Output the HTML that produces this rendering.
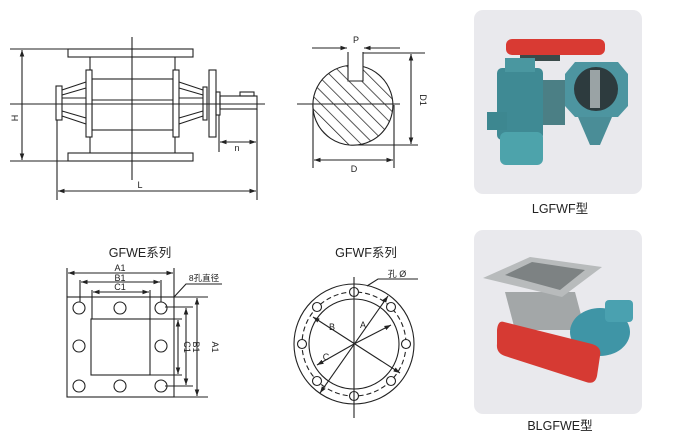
<!DOCTYPE html>
<html><head><meta charset="utf-8"><style>
body{margin:0;background:#fff;width:680px;height:436px;overflow:hidden}
svg{display:block}
text{font-family:"Liberation Sans","Noto Sans CJK SC",sans-serif;fill:#222}
</style></head><body>
<svg width="680" height="436" viewBox="0 0 680 436" xmlns="http://www.w3.org/2000/svg">
<defs>
<marker id="a" viewBox="0 0 10 10" refX="10" refY="5" markerWidth="6" markerHeight="6" orient="auto-start-reverse"><path d="M0,1.5L10,5L0,8.5z" fill="#222"/></marker>
<pattern id="h" width="9" height="9" patternUnits="userSpaceOnUse" patternTransform="rotate(-45)"><line x1="0" y1="0" x2="0" y2="9" stroke="#222" stroke-width="1.5"/></pattern>
</defs>
<g stroke="#222" stroke-width="1.1" fill="none">
<!-- side view -->
<rect x="68" y="49" width="125" height="8" fill="#fff"/>
<rect x="68" y="153" width="125" height="8" fill="#fff"/>
<line x1="90" y1="57" x2="90" y2="153"/><line x1="175" y1="57" x2="175" y2="153"/>
<rect x="92" y="79" width="81" height="51"/>
<line x1="92" y1="100" x2="173" y2="100"/>
<rect x="86" y="70" width="6" height="67" fill="#fff"/>
<rect x="173" y="70" width="6" height="67" fill="#fff"/>
<rect x="56" y="86" width="6" height="34" fill="#fff"/>
<line x1="62" y1="90" x2="86" y2="82"/><line x1="62" y1="95" x2="86" y2="88"/>
<line x1="62" y1="116" x2="86" y2="124"/><line x1="62" y1="111" x2="86" y2="118"/>
<line x1="62" y1="98" x2="86" y2="98"/>
<line x1="179" y1="82" x2="203" y2="90"/><line x1="179" y1="88" x2="203" y2="95"/>
<line x1="179" y1="124" x2="203" y2="116"/><line x1="179" y1="118" x2="203" y2="111"/>
<line x1="179" y1="98" x2="203" y2="98"/>
<rect x="203" y="87" width="4" height="33"/>
<rect x="209" y="70" width="7" height="67" fill="#fff"/>
<rect x="216" y="92" width="4" height="23"/>
<rect x="220" y="96" width="37" height="13"/>
<rect x="240" y="92" width="14" height="4"/>
<line x1="132" y1="37" x2="132" y2="180"/>
<line x1="10" y1="104" x2="265" y2="104"/>
<line x1="10" y1="49" x2="68" y2="49"/><line x1="10" y1="161" x2="68" y2="161"/>
<line x1="22" y1="50" x2="22" y2="160" marker-start="url(#a)" marker-end="url(#a)"/>
<line x1="57" y1="120" x2="57" y2="200"/><line x1="257" y1="109" x2="257" y2="200"/>
<line x1="58" y1="191" x2="256" y2="191" marker-start="url(#a)" marker-end="url(#a)"/>
<line x1="219" y1="115" x2="219" y2="152"/>
<line x1="220" y1="142" x2="256" y2="142" marker-start="url(#a)" marker-end="url(#a)"/>
<!-- shaft section -->
<path d="M348,65.5 A40,40 0 1,0 363,66.5 L363,81 L348,81 Z" fill="url(#h)"/>
<line x1="348" y1="52" x2="348" y2="66"/><line x1="363" y1="52" x2="363" y2="66"/>
<line x1="312" y1="48" x2="347" y2="48" marker-end="url(#a)"/>
<line x1="400" y1="48" x2="364" y2="48" marker-end="url(#a)"/>
<line x1="363" y1="53" x2="425" y2="53"/>
<line x1="355" y1="145" x2="418" y2="145"/>
<line x1="411" y1="54" x2="411" y2="144" marker-start="url(#a)" marker-end="url(#a)"/>
<line x1="297" y1="104" x2="400" y2="104"/>
<line x1="313" y1="105" x2="313" y2="168"/><line x1="394" y1="105" x2="394" y2="168"/>
<line x1="314" y1="160" x2="393" y2="160" marker-start="url(#a)" marker-end="url(#a)"/>
<!-- GFWE -->
<rect x="67" y="297" width="107" height="100"/>
<rect x="91" y="319" width="59" height="56"/>
<circle cx="79" cy="308" r="6"/><circle cx="120" cy="308" r="6"/><circle cx="161" cy="308" r="6"/>
<circle cx="79" cy="346" r="6"/><circle cx="161" cy="346" r="6"/>
<circle cx="79" cy="386" r="6"/><circle cx="120" cy="386" r="6"/><circle cx="161" cy="386" r="6"/>
<line x1="67" y1="268" x2="67" y2="297"/><line x1="174" y1="268" x2="174" y2="297"/>
<line x1="68" y1="273" x2="173" y2="273" marker-start="url(#a)" marker-end="url(#a)"/>
<line x1="80" y1="280" x2="80" y2="302"/><line x1="161" y1="280" x2="161" y2="302"/>
<line x1="81" y1="282" x2="160" y2="282" marker-start="url(#a)" marker-end="url(#a)"/>
<line x1="92" y1="290" x2="92" y2="319"/><line x1="150" y1="290" x2="150" y2="319"/>
<line x1="93" y1="292" x2="149" y2="292" marker-start="url(#a)" marker-end="url(#a)"/>
<line x1="174" y1="297" x2="208" y2="297"/><line x1="174" y1="397" x2="208" y2="397"/>
<line x1="197" y1="298" x2="197" y2="396" marker-start="url(#a)" marker-end="url(#a)"/>
<line x1="165" y1="307" x2="193" y2="307"/><line x1="165" y1="386" x2="193" y2="386"/>
<line x1="186" y1="308" x2="186" y2="385" marker-start="url(#a)" marker-end="url(#a)"/>
<line x1="150" y1="319" x2="182" y2="319"/><line x1="150" y1="375" x2="182" y2="375"/>
<line x1="178" y1="320" x2="178" y2="374" marker-start="url(#a)" marker-end="url(#a)"/>
<polyline points="174,297 186,284 222,284"/>
<!-- GFWF -->
<circle cx="354" cy="344" r="60"/>
<circle cx="354" cy="344" r="45"/>
<circle cx="354" cy="344" r="52" stroke-dasharray="5,3"/>
<g fill="#fff">
<circle cx="354" cy="292" r="4.5"/><circle cx="354" cy="396" r="4.5"/>
<circle cx="302" cy="344" r="4.5"/><circle cx="406" cy="344" r="4.5"/>
<circle cx="317" cy="307" r="4.5"/><circle cx="391" cy="307" r="4.5"/>
<circle cx="317" cy="381" r="4.5"/><circle cx="391" cy="381" r="4.5"/>
</g>
<line x1="354" y1="277" x2="354" y2="418"/>
<line x1="320" y1="393" x2="388" y2="296" marker-start="url(#a)" marker-end="url(#a)"/>
<line x1="354" y1="344" x2="391" y2="325" marker-end="url(#a)"/>
<line x1="313" y1="317" x2="400" y2="373" marker-start="url(#a)" marker-end="url(#a)"/>
<line x1="354" y1="344" x2="317" y2="365" marker-end="url(#a)"/>
<polyline points="367,286 378,279 418,279"/>
</g>
<g font-size="9" text-anchor="middle">
<text x="15" y="118" transform="rotate(-90 15 118)" dy="3">H</text>
<text x="140" y="188">L</text>
<text x="237" y="151">n</text>
<text x="356" y="43">P</text>
<text x="354" y="172">D</text>
<text x="420" y="100" transform="rotate(90 420 100)">D1</text>
<text x="120" y="271">A1</text>
<text x="120" y="281">B1</text>
<text x="120" y="290">C1</text>
<text x="204" y="281" font-size="8.5">8孔直径</text>
<text x="204" y="347" transform="rotate(90 204 347)" dy="-8">A1</text>
<text x="192" y="347" transform="rotate(90 192 347)" dy="-1">B1</text>
<text x="183" y="347" transform="rotate(90 183 347)" dy="-1">C1</text>
<text x="332" y="330">B</text>
<text x="363" y="328">A</text>
<text x="326" y="360">C</text>
<text x="397" y="277">孔 Ø</text>
</g>
<g font-size="12.5" text-anchor="middle">
<text x="140" y="257">GFWE系列</text>
<text x="366" y="257">GFWF系列</text>
<text x="560" y="213">LGFWF型</text>
<text x="560" y="430">BLGFWE型</text>
</g>
<!-- photos -->
<rect x="474" y="10" width="168" height="184" rx="9" fill="#e9e9ed"/>
<rect x="474" y="230" width="168" height="184" rx="9" fill="#e9e9ed"/>
<g>
<rect x="506" y="39" width="99" height="16" rx="6" fill="#d93a33"/>
<rect x="520" y="55" width="40" height="6" fill="#3a4a4a"/>
<rect x="497" y="68" width="46" height="72" rx="5" fill="#3f8a94"/>
<rect x="505" y="58" width="30" height="14" fill="#4a97a0"/>
<rect x="500" y="132" width="43" height="33" rx="6" fill="#4da3ab"/>
<rect x="487" y="112" width="20" height="18" fill="#3d8790"/>
<rect x="543" y="80" width="22" height="45" fill="#4b7f85"/>
<path d="M575,62 L618,62 L628,74 L628,106 L618,117 L575,117 L565,106 L565,74 Z" fill="#4d95a0"/>
<circle cx="596" cy="89" r="22" fill="#2d3b3e"/>
<rect x="590" y="70" width="10" height="38" fill="#9aa3a5"/>
<path d="M578,117 L612,117 L600,145 L590,145 Z" fill="#4a8d97"/>
</g>
<g>
<path d="M505,292 L575,292 L585,330 L515,330 Z" fill="#a3a7a8"/>
<ellipse cx="600" cy="332" rx="30" ry="24" fill="#3f95a6"/>
<rect x="605" y="300" width="28" height="22" rx="4" fill="#4aa1b0"/>
<path d="M483,278 L530,257 L602,267 L562,297 Z" fill="#b8bbbc"/>
<path d="M505,275 L532,262 L585,270 L560,290 Z" fill="#7d8283"/>
<path d="M504,322 L592,344 Q602,347 600,356 L597,376 Q595,385 586,382 L505,356 Q496,353 497,344 L497,330 Q498,320 504,322 Z" fill="#d63a33"/>
</g>
</svg>
</body></html>
